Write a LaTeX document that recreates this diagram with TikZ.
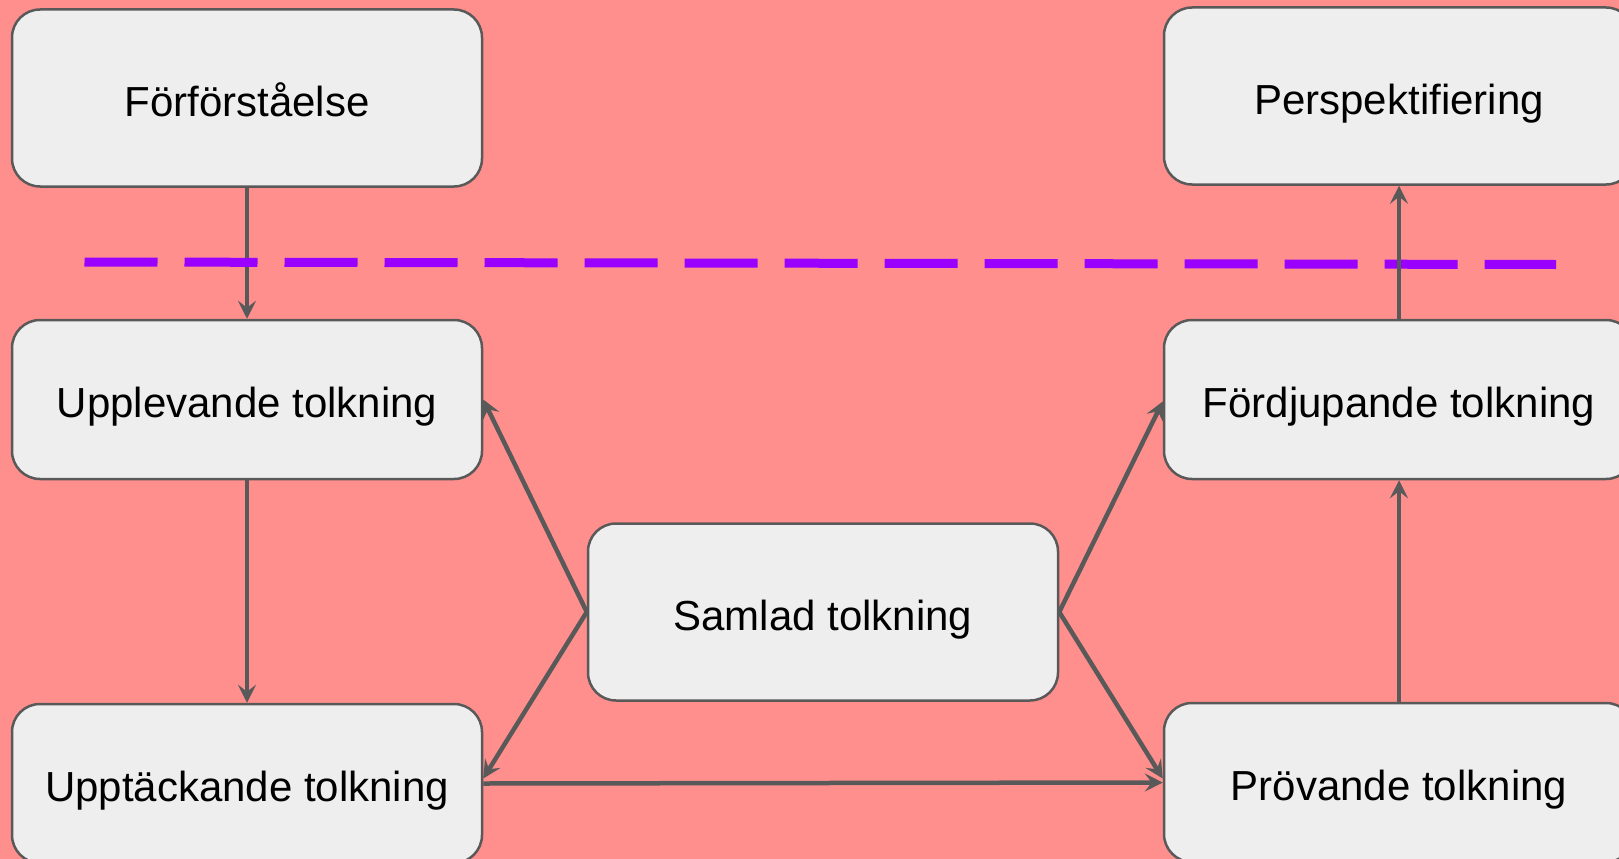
\documentclass[tikz,border=0pt]{standalone}
\usepackage{fontspec}
\setmainfont{Liberation Sans}
\usetikzlibrary{arrows.meta}
\definecolor{bg}{RGB}{255,143,140}
\definecolor{boxfill}{RGB}{238,238,238}
\definecolor{edgegray}{RGB}{89,89,89}
\definecolor{purp}{RGB}{153,0,255}
\begin{document}
\begin{tikzpicture}[x=1pt,y=-1pt,
  box/.style={draw=edgegray, fill=boxfill, line width=2.5pt, rounded corners=28pt,
    minimum width=470pt, minimum height=159pt, inner sep=0pt,
    font=\fontsize{42}{50}\selectfont, text height=40pt, text depth=4pt},
  tall/.style={minimum height=177pt},
  conn/.style={draw=edgegray, line width=4.5pt, -{Stealth[length=18pt,width=18pt,inset=7pt]}},
  sepline/.style={draw=purp, line width=9pt, dash pattern=on 73pt off 27pt}]
\useasboundingbox (0,0) rectangle (1619,859);
\clip (0,0) rectangle (1619,859);
\fill[bg] (0,0) rectangle (1619,859);

\node[box,tall] (forf) at (247,98) {Förförståelse};
\node[box] (uppl) at (247,399.5) {Upplevande tolkning};
\node[box] (uppt) at (247,783.5) {Upptäckande tolkning};
\node[box,tall] (saml) at (823,612) {Samlad tolkning};
\node[box,tall] (persp) at (1399,96) {Perspektifiering};
\node[box] (fordj) at (1399,399.5) {Fördjupande tolkning};
\node[box] (prov) at (1399,782.5) {Prövande tolkning};

\coordinate (dl) at (84.5,262);
\coordinate (dr) at (1556,264.5);

\draw[conn] (forf.south) -- (uppl.north);
\draw[sepline] (dl) -- (dr);
\draw[conn] (fordj.north) -- (persp.south);

\draw[conn] (uppl.south) -- (uppt.north);
\draw[conn] (saml.west) -- (uppl.east);
\draw[conn] (saml.west) -- ([yshift=5pt]uppt.east);
\draw[conn] (uppt.east) -- (prov.west);
\draw[conn] (saml.east) -- ([yshift=-2pt]fordj.west);
\draw[conn] (saml.east) -- ([yshift=4pt]prov.west);
\draw[conn] (prov.north) -- (fordj.south);
\end{tikzpicture}
\end{document}
